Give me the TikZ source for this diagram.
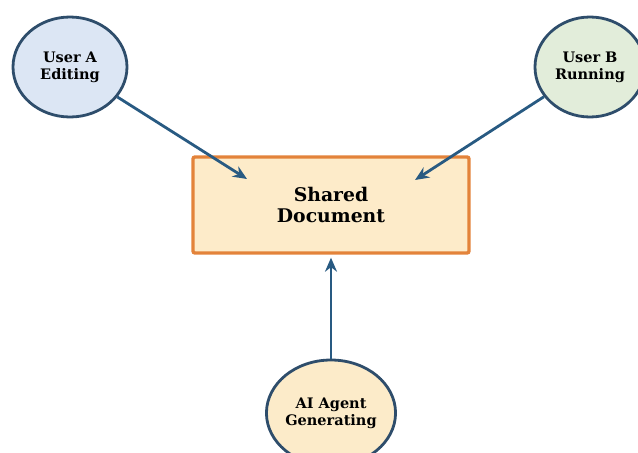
\documentclass[tikz,border=0pt]{standalone}
\usepackage{fontspec}
\setmainfont{DejaVu Serif}
\usetikzlibrary{arrows.meta,shapes.geometric}

\definecolor{ringblue}{HTML}{2E4D6B}
\definecolor{flowblue}{HTML}{285A82}
\definecolor{fillA}{HTML}{DCE6F4}
\definecolor{fillB}{HTML}{E2EDDA}
\definecolor{fillC}{HTML}{FCEBC9}
\definecolor{docfill}{HTML}{FDEBC9}
\definecolor{docedge}{HTML}{E3833A}

\begin{document}
\begin{tikzpicture}[x=1pt,y=-1pt,
    actor/.style={ellipse,draw=ringblue,line width=2.8pt,inner sep=0pt,
      align=center,font=\fontsize{14.5}{17}\selectfont\bfseries},
    docbox/.style={rectangle,rounded corners=2pt,draw=docedge,fill=docfill,line width=3.4pt,
      minimum width=276pt,minimum height=96pt,align=center,
      font=\fontsize{18.8}{21}\selectfont\bfseries},
    flow/.style={flowblue,line width=2.8pt,-{Stealth[length=14pt,width=12pt]}}]
  \useasboundingbox (0,0) rectangle (638,453);
  \node[docbox] (doc) at (331,205) {Shared\\Document};
  \node[actor,fill=fillA,minimum width=114pt,minimum height=100pt] (userA) at (70,67) {User A\\Editing};
  \node[actor,fill=fillB,minimum width=110pt,minimum height=100pt] (userB) at (590,67) {User B\\Running};
  \node[actor,fill=fillC,minimum width=117pt,minimum height=106pt] (aiAgent) at (331,413) {AI Agent\\Generating};
  % arrow tips stop inside the box
  \coordinate (inA) at (247,179);
  \coordinate (inB) at (415,180);
  \draw[flow] (userA) -- (inA);
  \draw[flow] (userB) -- (inB);
  \draw[flow,shorten >=3pt] (aiAgent) -- (doc.south);
\end{tikzpicture}
\end{document}
